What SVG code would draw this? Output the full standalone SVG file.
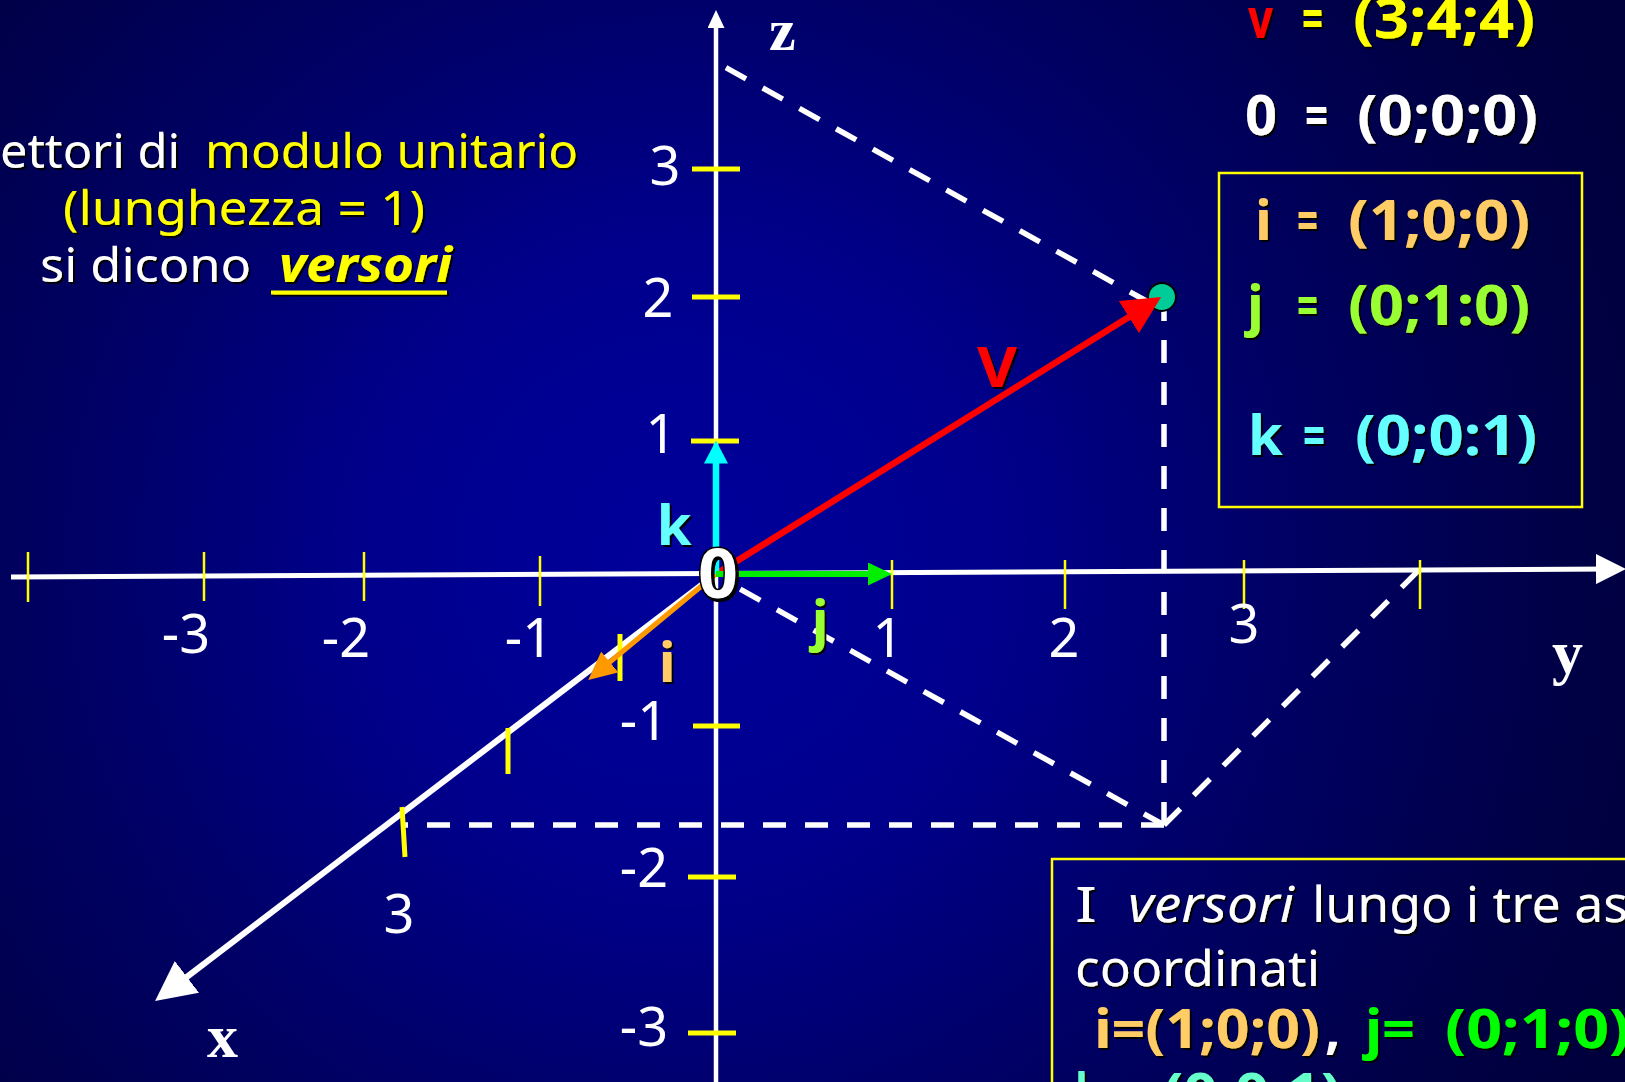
<svg xmlns="http://www.w3.org/2000/svg" width="1625" height="1082" viewBox="0 0 1625 1082">
<defs>
  <radialGradient id="bg" gradientUnits="userSpaceOnUse" cx="680" cy="560" r="1050">
    <stop offset="0" stop-color="#00009C"/>
    <stop offset="0.3" stop-color="#00008C"/>
    <stop offset="0.55" stop-color="#000068"/>
    <stop offset="0.85" stop-color="#000046"/>
    <stop offset="1" stop-color="#00003C"/>
  </radialGradient>
  <filter id="sh" x="-20%" y="-20%" width="140%" height="140%">
    <feDropShadow dx="2" dy="2" stdDeviation="0.6" flood-color="#000" flood-opacity="1"/>
  </filter>
  <marker id="aZ" viewBox="0 0 10 10" refX="5" refY="5" markerUnits="userSpaceOnUse" markerWidth="18" markerHeight="17" orient="auto" preserveAspectRatio="none"><path d="M0,0L10,5L0,10z" fill="#fff"/></marker>
  <marker id="aY" viewBox="0 0 10 10" refX="5" refY="5" markerUnits="userSpaceOnUse" markerWidth="30" markerHeight="30" orient="auto" preserveAspectRatio="none"><path d="M0,0L10,5L0,10z" fill="#fff"/></marker>
  <marker id="aX" viewBox="0 0 10 10" refX="5" refY="5" markerUnits="userSpaceOnUse" markerWidth="40" markerHeight="40" orient="auto" preserveAspectRatio="none"><path d="M0,0L10,5L0,10z" fill="#fff"/></marker>
  <marker id="aI" viewBox="0 0 10 10" refX="5" refY="5" markerUnits="userSpaceOnUse" markerWidth="28" markerHeight="27" orient="auto" preserveAspectRatio="none"><path d="M0,0L10,5L0,10z" fill="#FF9900"/></marker>
  <marker id="aK" viewBox="0 0 10 10" refX="5" refY="5" markerUnits="userSpaceOnUse" markerWidth="23" markerHeight="24" orient="auto" preserveAspectRatio="none"><path d="M0,0L10,5L0,10z" fill="#00FFFF"/></marker>
  <marker id="aJ" viewBox="0 0 10 10" refX="5" refY="5" markerUnits="userSpaceOnUse" markerWidth="24" markerHeight="23" orient="auto" preserveAspectRatio="none"><path d="M0,0L10,5L0,10z" fill="#00EE00"/></marker>
  <marker id="aV" viewBox="0 0 10 10" refX="5" refY="5" markerUnits="userSpaceOnUse" markerWidth="38" markerHeight="38" orient="auto" preserveAspectRatio="none"><path d="M0,0L10,5L0,10z" fill="#FF0000"/></marker>
</defs>
<style>
  .c { font-family: 'Noto Sans', 'DejaVu Sans', sans-serif; }
  .num { font-family: 'Noto Sans', 'DejaVu Sans', sans-serif; font-size: 54px; fill: #fff; text-anchor: middle; }
  .eq { font-family: 'Noto Sans', 'DejaVu Sans', sans-serif; font-size: 56px; font-weight: bold; filter: url(#sh); }
  .ax { font-family: 'Liberation Serif', 'Times New Roman', serif; font-weight: bold; fill: #fff; }
  .dash { stroke: #fff; stroke-width: 5.5; stroke-dasharray: 23 19; fill: none; }
  .tk { stroke: #FFFF00; fill: none; }
  .sh { filter: url(#sh); }
</style>

<rect width="1625" height="1082" fill="url(#bg)"/>

<g id="connectors">
  <g id="dashes">
    <line class="dash" x1="1150" y1="303" x2="723" y2="66"/>
    <line class="dash" x1="1164" y1="825" x2="1164" y2="300"/>
    <line class="dash" x1="1164" y1="825" x2="404" y2="825"/>
    <line class="dash" x1="1164" y1="825" x2="738" y2="588"/>
    <line class="dash" x1="1164" y1="825" x2="1418" y2="571"/>
  </g>
  <g id="axes">
    <line x1="716" y1="1082" x2="716" y2="19" stroke="#fff" stroke-width="4.5" marker-end="url(#aZ)"/>
    <line x1="11" y1="577" x2="1611" y2="569" stroke="#fff" stroke-width="5" marker-end="url(#aY)"/>
    <line x1="716" y1="574" x2="171" y2="989" stroke="#fff" stroke-width="6" marker-end="url(#aX)"/>
  </g>
  <g id="ticks">
    <line class="tk" stroke-width="2.5" x1="28" y1="552" x2="28" y2="602"/>
    <line class="tk" stroke-width="2.5" x1="204" y1="552" x2="204" y2="601"/>
    <line class="tk" stroke-width="2.5" x1="364" y1="552" x2="364" y2="601"/>
    <line class="tk" stroke-width="2.5" x1="540" y1="556" x2="540" y2="606"/>
    <line class="tk" stroke-width="2.5" x1="892" y1="560" x2="892" y2="609"/>
    <line class="tk" stroke-width="2.5" x1="1065" y1="560" x2="1065" y2="609"/>
    <line class="tk" stroke-width="2.5" x1="1244" y1="560" x2="1244" y2="609"/>
    <line class="tk" stroke-width="2.5" x1="1420" y1="560" x2="1420" y2="609"/>
    <line class="tk" stroke-width="5" x1="692" y1="169" x2="740" y2="169"/>
    <line class="tk" stroke-width="5" x1="692" y1="297" x2="740" y2="297"/>
    <line class="tk" stroke-width="5" x1="691" y1="441" x2="739" y2="441"/>
    <line class="tk" stroke-width="5" x1="693" y1="726" x2="740" y2="726"/>
    <line class="tk" stroke-width="5" x1="688" y1="877" x2="736" y2="877"/>
    <line class="tk" stroke-width="5" x1="688" y1="1033" x2="736" y2="1033"/>
    <line class="tk" stroke-width="5" x1="620" y1="634" x2="620" y2="681"/>
    <line class="tk" stroke-width="5" x1="508" y1="728" x2="508" y2="774"/>
    <line class="tk" stroke-width="5" x1="402" y1="807" x2="405" y2="857"/>
  </g>
  <g id="vectors">
    <circle cx="1162" cy="297" r="14" fill="#00CC99" stroke="#000" stroke-width="2"/>
    <line x1="716" y1="574" x2="1145" y2="307" stroke="#FF0000" stroke-width="6.5" marker-end="url(#aV)"/>
    <line x1="716" y1="574" x2="599" y2="671" stroke="#FF9900" stroke-width="5" marker-end="url(#aI)"/>
    <line x1="716" y1="574" x2="716" y2="452" stroke="#00FFFF" stroke-width="6.5" marker-end="url(#aK)"/>
    <line x1="716" y1="574" x2="880" y2="574" stroke="#00EE00" stroke-width="6" marker-end="url(#aJ)"/>
  </g>
</g>

<g id="axis-labels">
  <text class="ax" x="769" y="50" font-size="60">z</text>
  <text class="ax" x="207" y="1057" font-size="62">x</text>
  <text class="ax" x="1552" y="673" font-size="62">y</text>
  <text class="num" x="665" y="185">3</text>
  <text class="num" x="658" y="317">2</text>
  <text class="num" x="661" y="453">1</text>
  <text class="num" x="644" y="740">-1</text>
  <text class="num" x="644" y="887">-2</text>
  <text class="num" x="644" y="1046">-3</text>
  <text class="num" x="186" y="653">-3</text>
  <text class="num" x="346" y="657">-2</text>
  <text class="num" x="529" y="657">-1</text>
  <text class="num" x="888" y="657">1</text>
  <text class="num" x="1064" y="657">2</text>
  <text class="num" x="1244" y="643">3</text>
  <text class="num" x="399" y="933">3</text>
</g>

<g id="vector-labels">
  <text class="eq" x="997" y="387" font-size="70" fill="#FF0000" text-anchor="middle" textLength="40" lengthAdjust="spacingAndGlyphs">V</text>
  <text class="eq" x="674" y="545" font-size="60" fill="#66FFFF" text-anchor="middle">k</text>
  <text class="eq" x="820" y="640" font-size="58" fill="#99FF33" text-anchor="middle">j</text>
  <text class="eq" x="667" y="682" font-size="58" fill="#FFCC66" text-anchor="middle">i</text>
  <text class="c" x="698" y="598" font-size="68" font-weight="bold" fill="#fff" stroke="#000" stroke-width="3" paint-order="stroke" filter="url(#sh)" textLength="40" lengthAdjust="spacingAndGlyphs">0</text>
</g>

<g id="intro-text" class="c sh" font-size="48">
  <text x="0" y="168" fill="#fff" textLength="180" lengthAdjust="spacingAndGlyphs">ettori di</text>
  <text x="205" y="168" fill="#FFFF00" textLength="373" lengthAdjust="spacingAndGlyphs">modulo unitario</text>
  <text x="63" y="225" fill="#FFFF00" textLength="362" lengthAdjust="spacingAndGlyphs">(lunghezza = 1)</text>
  <text x="40" y="282" fill="#fff" textLength="211" lengthAdjust="spacingAndGlyphs">si dicono</text>
  <text x="279" y="282" fill="#FFFF00" font-weight="bold" font-style="italic" textLength="173" lengthAdjust="spacingAndGlyphs">versori</text>
  <line x1="271" y1="292.5" x2="447" y2="292.5" stroke="#FFFF00" stroke-width="4"/>
</g>

<g id="coords">
  <text class="eq" x="1248" y="38" fill="#FF0000" textLength="25" lengthAdjust="spacingAndGlyphs">v</text>
  <text class="eq" x="1302" y="38" fill="#FFFF00" textLength="21" lengthAdjust="spacingAndGlyphs">=</text>
  <text class="eq" x="1353" y="38" fill="#FFFF00" textLength="182" lengthAdjust="spacingAndGlyphs">(3;4;4)</text>
  <text class="eq" x="1245" y="135" fill="#fff" textLength="32" lengthAdjust="spacingAndGlyphs">0</text>
  <text class="eq" x="1305" y="135" fill="#fff" textLength="23" lengthAdjust="spacingAndGlyphs">=</text>
  <text class="eq" x="1357" y="135" fill="#fff" textLength="181" lengthAdjust="spacingAndGlyphs">(0;0;0)</text>
</g>

<g id="unit-box">
  <rect x="1219" y="173" width="363" height="334" fill="none" stroke="#FFFF00" stroke-width="2.5"/>
  <text class="eq" x="1255" y="240" fill="#FFCC66">i</text>
  <text class="eq" x="1297" y="240" fill="#FFCC66" textLength="21" lengthAdjust="spacingAndGlyphs">=</text>
  <text class="eq" x="1348" y="240" fill="#FFCC66" textLength="182" lengthAdjust="spacingAndGlyphs">(1;0;0)</text>
  <text class="eq" x="1247" y="325" fill="#99FF33">j</text>
  <text class="eq" x="1297" y="325" fill="#99FF33" textLength="21" lengthAdjust="spacingAndGlyphs">=</text>
  <text class="eq" x="1348" y="325" fill="#99FF33" textLength="182" lengthAdjust="spacingAndGlyphs">(0;1:0)</text>
  <text class="eq" x="1248" y="455" fill="#66FFFF">k</text>
  <text class="eq" x="1303" y="455" fill="#66FFFF" textLength="22" lengthAdjust="spacingAndGlyphs">=</text>
  <text class="eq" x="1355" y="455" fill="#66FFFF" textLength="182" lengthAdjust="spacingAndGlyphs">(0;0:1)</text>
</g>

<g id="note-box">
  <rect x="1052" y="859" width="620" height="300" fill="none" stroke="#FFFF00" stroke-width="2.5"/>
  <g class="c sh" font-size="50" fill="#fff">
    <text x="1075" y="922" textLength="22" lengthAdjust="spacingAndGlyphs">I</text>
    <text x="1128" y="922" font-style="italic" textLength="166" lengthAdjust="spacingAndGlyphs">versori</text>
    <text x="1312" y="922" textLength="316" lengthAdjust="spacingAndGlyphs">lungo i tre as</text>
    <text x="1075" y="986" textLength="245" lengthAdjust="spacingAndGlyphs">coordinati</text>
  </g>
  <g class="c sh" font-size="54" font-weight="bold">
    <text x="1094" y="1048" fill="#FFCC66" textLength="226" lengthAdjust="spacingAndGlyphs">i=(1;0;0)</text>
    <text x="1325" y="1048" fill="#fff">,</text>
    <text x="1365" y="1048" fill="#00FF00" textLength="50" lengthAdjust="spacingAndGlyphs">j=</text>
    <text x="1445" y="1048" fill="#00FF00" textLength="185" lengthAdjust="spacingAndGlyphs">(0;1;0)</text>
    <text x="1075" y="1112" fill="#66FFCC" textLength="50" lengthAdjust="spacingAndGlyphs">k=</text>
    <text x="1163" y="1112" fill="#66FFCC" textLength="178" lengthAdjust="spacingAndGlyphs">(0;0;1)</text>
  </g>
</g>
</svg>
